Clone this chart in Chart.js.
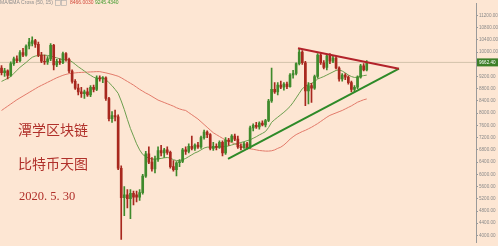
<!DOCTYPE html>
<html>
<head>
<meta charset="utf-8">
<script src="https://cdn.jsdelivr.net/npm/chart.js@4.4.1/dist/chart.umd.min.js"></script>
<style>
  html, body { margin: 0; padding: 0; background: #fde6d3; }
  #wrap { position: relative; width: 498px; height: 246px; }
</style>
</head>
<body>
<div id="wrap"><canvas id="c" width="498" height="246"></canvas></div>
<script>
// Daily BTC candles, [open, high, low, close]
const ohlc = [
  [9480,9560,9250,9330],[9330,9470,9200,9390],[9390,9420,9120,9240],[9240,9680,9200,9620],
  [9620,9840,9560,9780],[9780,9880,9650,9720],[9720,10050,9680,9980],[9980,10120,9850,9900],
  [9900,10240,9870,10200],[10200,10450,10100,10330],[10280,10500,10200,10380],[10380,10420,10150,10250],
  [10250,10330,9850,9900],[9900,9990,9650,9700],[9700,9900,9600,9680],[9680,9850,9600,9780],
  [9780,10280,9720,10220],[10220,10250,9420,9580],[9580,9760,9520,9700],[9700,9780,9600,9650],
  [9650,10000,9620,9950],[9950,9980,9700,9760],[9760,9800,9330,9380],[9380,9420,8980,9040],
  [9040,9100,8780,8820],[8820,8950,8600,8700],[8700,8850,8520,8640],[8640,8760,8480,8700],
  [8700,8820,8550,8600],[8600,8900,8540,8850],[8850,8920,8700,8780],[8780,9220,8740,9150],
  [9150,9220,9050,9120],[9120,9200,9000,9160],[9160,9190,8420,8480],[8480,8520,7750,7820],
  [7820,8050,7700,7920],[7920,8100,7750,7880],[7880,7950,6150,6200],[6200,6280,3870,5240],
  [5240,5600,4650,5330],[5330,5500,4900,5200],[5200,5500,4550,5380],[5380,5450,5000,5250],
  [5330,5450,5100,5250],[5250,5500,5150,5400],[5400,6000,5350,5940],[5940,6750,5900,6670],
  [6670,6900,6350,6400],[6400,6550,6100,6180],[6180,6600,6050,6500],[6500,6900,6420,6780],
  [6780,6950,6600,6700],[6700,6850,6550,6800],[6800,6900,6650,6720],[6720,6760,6200,6250],
  [6250,6450,6100,6150],[6150,6420,5950,6380],[6380,6480,6250,6420],[6420,6850,6380,6800],
  [6800,6900,6650,6750],[6750,7000,6700,6920],[6920,7250,6800,6850],[6850,7000,6780,6960],
  [6960,7050,6850,6900],[6900,7250,6850,7200],[7200,7450,7150,7380],[7380,7420,7200,7300],
  [7300,7330,6800,6850],[6850,7050,6780,6920],[6920,7000,6800,6880],[6880,7100,6850,7050],
  [7050,7100,6600,6700],[6700,7200,6650,7120],[7120,7180,6950,7080],[7080,7300,7050,7250],
  [7250,7320,7100,7150],[7150,7250,6850,6900],[6900,7000,6800,6870],[6870,7050,6850,7000],
  [7000,7050,6820,6880],[6880,7580,6850,7520],[7520,7650,7420,7600],[7600,7700,7500,7550],
  [7550,7720,7480,7680],[7680,7750,7580,7620],[7620,7800,7550,7760],[7760,8450,7720,8400],
  [8400,9480,8350,8780],[8780,9000,8650,8700],[8700,9000,8600,8920],[8920,9050,8800,8850],
  [8850,9000,8750,8950],[8950,9020,8800,8870],[8870,9300,8850,9250],[9250,9400,9150,9300],
  [9300,9650,9250,9620],[9620,10100,9580,10000],[10000,10050,9600,9650],[9650,9700,8250,8730],
  [8730,9000,8300,8900],[8900,8980,8350,8820],[8820,9250,8780,9200],[9200,9950,9150,9900],
  [9900,9950,9600,9650],[9650,9720,9450,9500],[9500,9920,9420,9880],[9880,9950,9620,9700],
  [9700,9880,9650,9800],[9800,9850,9450,9480],[9480,9520,9050,9120],[9120,9300,9050,9250],
  [9250,9300,9100,9180],[9180,9220,8950,9000],[9000,9050,8700,8780],[8780,8900,8700,8850],
  [8850,9220,8800,9180],[9180,9600,9150,9550],[9550,9620,9380,9420],[9420,9720,9380,9662.4]
];

// Simple moving average (50)
const ma50 = [
  8090,8160,8230,8300,8370,8440,8500,8560,8620,8680,8740,8800,8860,8910,8960,9010,
  9060,9110,9160,9200,9240,9270,9295,9310,9320,9330,9335,9340,9345,9350,9355,9360,
  9360,9340,9320,9295,9270,9240,9210,9160,9100,9040,8980,8920,8850,8780,8720,8660,
  8610,8550,8490,8430,8390,8350,8310,8270,8230,8180,8140,8110,8090,8020,7950,7880,
  7810,7720,7630,7540,7450,7360,7300,7240,7180,7120,7080,7040,7000,6960,6920,6870,
  6850,6835,6820,6800,6780,6770,6760,6760,6770,6800,6850,6890,6960,7050,7150,7230,
  7300,7350,7400,7440,7490,7540,7600,7660,7730,7800,7870,7930,7970,8010,8050,8090,
  8140,8190,8240,8300,8360,8400,8440,8466.003
];

// Exponential moving average (15)
const ema15 = [
  9040,9090,9140,9200,9300,9400,9500,9580,9660,9750,9830,9870,9890,9900,9900,9890,
  9870,9840,9810,9780,9750,9750,9740,9680,9600,9520,9450,9380,9300,9240,9180,9140,
  9150,9160,9100,9000,8900,8780,8650,8400,8120,7800,7500,7250,7000,6800,6650,6580,
  6530,6500,6500,6510,6520,6540,6550,6530,6480,6450,6450,6480,6520,6580,6640,6700,
  6740,6800,6860,6890,6890,6890,6890,6900,6900,6910,6930,6960,6990,7010,7040,7070,
  7100,7130,7180,7230,7290,7340,7400,7530,7700,7790,7870,7950,8030,8120,8220,8350,
  8500,8650,8800,8880,8940,8980,9030,9120,9160,9200,9250,9300,9350,9400,9420,9380,
  9320,9250,9200,9170,9180,9210,9230,9245.434
];

// Triangle trend lines: [day index, price]
const resistance = [[96.6, 10122], [129.5, 9456]];
const support = [[73.8, 6506], [129.5, 9456]];

const lastPrice = 9662.4;
const yTicks = [4000,4400,4800,5200,5600,6000,6400,6800,7200,7600,8000,8400,8800,9200,9600,10000,10400,10800,11200];

const UP = '#3f8a2c', DOWN = '#a8281e';
const colorOf = d => d[3] >= d[0] ? UP : DOWN;

const bodies = ohlc.map((d, i) => ({ x: i, y: [d[0], d[3] === d[0] ? d[0] + 8 : d[3]] }));
const wicks = ohlc.map((d, i) => ({ x: i, y: [d[2], d[1]] }));

const overlay = {
  id: 'overlay',
  afterDraw(chart) {
    const ctx = chart.ctx;
    const ys = chart.scales.y;
    const area = chart.chartArea;
    ctx.save();
    // last price tag
    const py = ys.getPixelForValue(lastPrice);
    ctx.fillStyle = '#3d7f27';
    ctx.fillRect(area.right + 1, py - 4, 21, 8);
    ctx.fillStyle = '#ffffff';
    ctx.font = '4.6px "Liberation Sans"';
    ctx.textBaseline = 'middle';
    ctx.textAlign = 'left';
    ctx.fillText(lastPrice.toFixed(2), area.right + 3, py + 0.3);

    // indicator header
    ctx.font = '5px "Liberation Sans"';
    ctx.fillStyle = '#8c8c8c';
    ctx.fillText('MA/EMA Cross (50, 15)', 0, 3);
    ctx.strokeStyle = '#a8a8a8';
    ctx.lineWidth = 0.6;
    ctx.strokeRect(55.5, 0.5, 5, 5);
    ctx.strokeRect(61.5, 0.5, 5, 5);
    ctx.fillStyle = '#d24a3c';
    ctx.fillText(ma50[ma50.length - 1].toFixed(4), 70, 3);
    ctx.fillStyle = '#3f9a2c';
    ctx.fillText(ema15[ema15.length - 1].toFixed(4), 95, 3);

    // captions
    ctx.fillStyle = '#b0302a';
    ctx.font = '14px "Noto Sans CJK SC"';
    ctx.fillText('潭学区块链', 18, 130);
    ctx.fillText('比特币天图', 18, 164);
    ctx.font = '12.5px "Liberation Serif"';
    ctx.fillText('2020. 5. 30', 19, 197);
    ctx.restore();
  }
};

new Chart(document.getElementById('c'), {
  type: 'bar',
  data: {
    datasets: [
      {
        type: 'line', order: 1,
        data: resistance.map(p => ({ x: p[0], y: p[1] })),
        borderColor: '#b3222a', borderWidth: 2, pointRadius: 0
      },
      {
        type: 'line', order: 1,
        data: support.map(p => ({ x: p[0], y: p[1] })),
        borderColor: '#2e8a28', borderWidth: 2, pointRadius: 0
      },
      {
        order: 3, grouped: false,
        data: bodies,
        backgroundColor: ohlc.map(colorOf),
        barThickness: 2
      },
      {
        order: 4, grouped: false,
        data: wicks,
        backgroundColor: ohlc.map(colorOf),
        barThickness: 1
      },
      {
        type: 'line', order: 5,
        data: ema15.map((v, i) => ({ x: i, y: v })),
        borderColor: '#6c9e4e', borderWidth: 1, pointRadius: 0
      },
      {
        type: 'line', order: 5,
        data: ma50.map((v, i) => ({ x: i, y: v })),
        borderColor: '#e27a6a', borderWidth: 1, pointRadius: 0
      },
      {
        type: 'line', order: 10,
        data: [{ x: -0.5, y: lastPrice }, { x: 154.6, y: lastPrice }],
        borderColor: '#d3c2aa', borderWidth: 1, pointRadius: 0
      }
    ]
  },
  options: {
    responsive: false,
    animation: false,
    devicePixelRatio: 1,
    layout: { padding: 0 },
    plugins: { legend: { display: false }, tooltip: { enabled: false } },
    scales: {
      x: {
        type: 'linear', display: false, offset: false,
        min: -0.5, max: 154.6
      },
      y: {
        position: 'right',
        min: 3778, max: 11581,
        afterFit(s) { s.width = 22; },
        afterBuildTicks(s) { s.ticks = yTicks.map(v => ({ value: v })); },
        grid: { drawOnChartArea: false, drawTicks: true, tickLength: 2, color: '#9a9a9a' },
        border: { display: true, color: '#9a9a9a', width: 1 },
        ticks: {
          padding: 1,
          color: '#8a8a8a',
          font: { family: 'Liberation Sans', size: 4.6 },
          callback: v => Number(v).toFixed(2)
        }
      }
    }
  },
  plugins: [overlay]
});
</script>
</body>
</html>
